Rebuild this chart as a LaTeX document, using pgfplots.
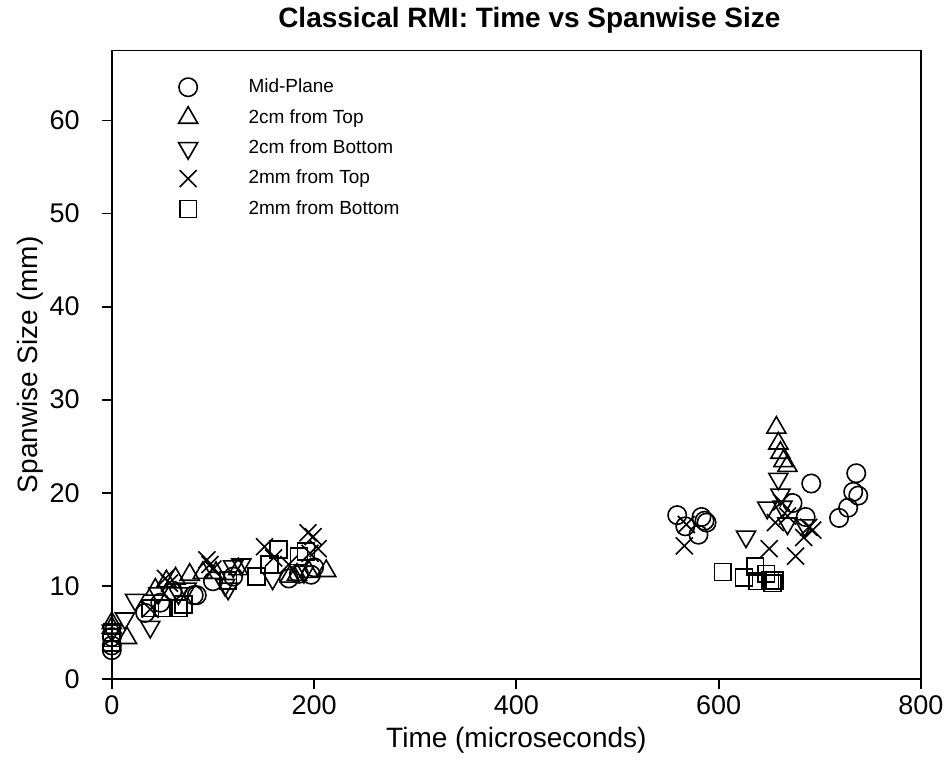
\documentclass[border=0pt]{standalone}
\usepackage{pgfplots}
\pgfplotsset{compat=1.18}
\usepackage{fontspec}
\setmainfont{Liberation Sans}
\begin{document}
\begin{tikzpicture}
\path[use as bounding box] (-55.9pt,-40pt) rectangle (417.1pt,339.5pt);
\begin{axis}[
  at={(0,0)}, anchor=south west,
  scale only axis,
  width=404.6pt, height=314.2pt,
  xmin=0, xmax=800, ymin=0, ymax=67.5,
  xtick={0,200,400,600,800},
  ytick={0,10,20,30,40,50,60},
  axis line style={line width=0.9pt},
  tick style={line width=0.9pt, black},
  tick align=outside,
  major tick length=5pt,
  xtick pos=bottom, ytick pos=left,
  /pgf/number format/assume math mode=true,
  ticklabel style={font=\fontsize{13.5}{16}\selectfont},
  yticklabel style={xshift=-7.5pt},
  xlabel={Time (microseconds)},
  ylabel={Spanwise Size (mm)},
  label style={font=\fontsize{14}{17}\selectfont},
  xlabel style={at={(axis description cs:0.5,-0.097)}, anchor=center},
  ylabel style={at={(axis description cs:-0.101,0.5)}, anchor=center},
  every axis title shift=0pt,
  title={\bfseries Classical RMI: Time vs Spanwise Size},
  title style={at={(axis description cs:0.516,1.048)}, anchor=center, font=\fontsize{14}{17}\selectfont},
  legend style={at={(axis description cs:0.081,0.962)}, anchor=north west, draw=none, fill=none,
    font=\fontsize{9.5}{11}\selectfont, row sep=2.85pt, inner sep=0pt,
    nodes={inner sep=2pt}},
  legend cell align=left,
  legend image code/.code={\draw plot coordinates {(0pt,0pt)}; \path (-5pt,0pt) (28pt,0pt);},
]
% Mid-Plane
\addplot[only marks, black, mark=o, mark size=4.6pt, mark options={line width=0.8pt, fill=none}] coordinates {
(0,3.1) (0,3.6) (0,4.5) (33,7.1) (48,8.2) (60,9.5) (81,9.0) (84,9.0) (100,10.5) (120,11.0)
(175,10.8) (185,11.3) (197,11.2) (200,12.0)
(559,17.6) (567,16.4) (580,15.5) (583,17.4) (586,17.0) (588,16.8)
(673,18.9) (686,17.4) (691.5,21.0) (719,17.3) (728,18.4) (733,20.1) (736,22.1) (738,19.7)
};
\addlegendentry{Mid-Plane}
% 2cm from Top
\addplot[only marks, black, mark=triangle, mark size=5.5pt, mark options={line width=0.8pt, fill=none}] coordinates {
(0,5.5) (0,6.0) (15,4.4) (43,9.6) (54,10.5) (63,10.8) (77,11.2) (90,11.4) (103,11.4) (125,11.8)
(176,11.0) (183,11.2) (195,11.5) (212,11.6)
(657,27.0) (659,25.3) (661,24.3) (664,23.4) (668,22.9)
};
\addlegendentry{2cm from Top}
% 2cm from Bottom
\addplot[only marks, black, mark=triangle, mark size=5.5pt, mark options={line width=0.8pt, fill=none, rotate=180}] coordinates {
(0,5.2) (13,6.5) (23,8.5) (38,5.6) (46,9.2) (66,9.2) (74,9.7) (112,10.1) (115,9.7) (120,12.1)
(128,12.3) (159,10.8) (190,11.5)
(627,15.3) (648,18.4) (659,21.5) (661,19.8) (663,18.5) (668,16.7) (685,16.5)
};
\addlegendentry{2cm from Bottom}
% 2mm from Top
\addplot[only marks, black, mark=x, mark size=6pt, mark options={line width=0.8pt}] coordinates {
(38,7.5) (53,10.8) (57,10.3) (94,12.8) (97,12.3) (100,11.8) (151,14.2) (160,13.0) (175,12.3)
(194,15.7) (199,15.3) (204,14.0) (196,13.5)
(566,14.3) (568,16.6) (650,14.0) (656,16.8) (662,19.0) (668,17.5) (676,13.2) (684,15.2) (689,16.3) (693,16.0)
};
\addlegendentry{2mm from Top}
% 2mm from Bottom
\addplot[only marks, black, mark=square, mark size=4.2pt, mark options={line width=0.8pt, fill=none}] coordinates {
(0,3.9) (0,4.4) (0,5.0) (38,7.6) (51,7.6) (66,7.6) (71,8.0) (115,10.6) (143,11.0) (156,12.3)
(165,13.9) (185,13.2) (192,13.7)
(604,11.5) (625,10.9) (636,12.1) (638,10.5) (647,11.3) (651,10.6) (653,10.3) (655,10.6)
};
\addlegendentry{2mm from Bottom}
\end{axis}
\end{tikzpicture}
\end{document}
